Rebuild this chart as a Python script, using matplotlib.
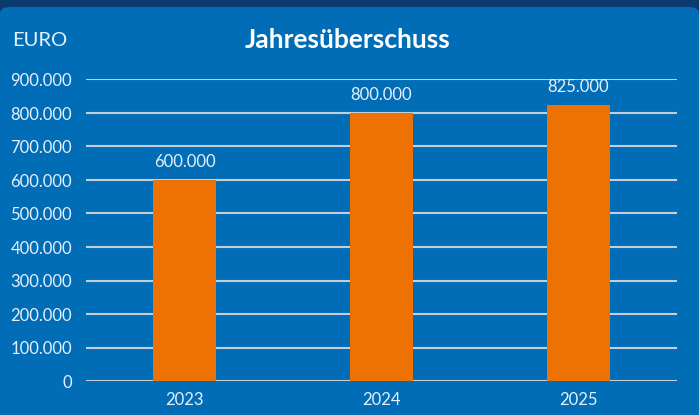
import matplotlib.pyplot as plt
from matplotlib.patches import FancyBboxPatch
from matplotlib.ticker import FuncFormatter

# Daten
years = ['2023', '2024', '2025']
values = [600000, 800000, 825000]
value_labels = ['600.000', '800.000', '825.000']

plt.rcParams['font.family'] = ['Lato', 'DejaVu Sans']

fig = plt.figure(figsize=(6.99, 4.15), dpi=100)
fig.patch.set_facecolor('#0b3a6e')

# Karte im Hintergrund
card = FancyBboxPatch((0.0, -0.05), 1.0, 1 - 7 / 415 + 0.05, boxstyle='round,pad=0,rounding_size=0.015',
                      transform=fig.transFigure, facecolor='#006db6', edgecolor='none', zorder=-1)
fig.patches.append(card)

ax = fig.add_axes([86 / 699, 1 - 381 / 415, (677 - 86) / 699, (381 - 79.5) / 415])
ax.set_facecolor('none')

x = range(len(years))
ax.bar(x, values, width=0.315, color='#ee7203', zorder=3)

for i, v in enumerate(values):
    ax.annotate(value_labels[i], (i, v), xytext=(0, 7), textcoords='offset points',
                ha='center', va='bottom', color='#e6f0fa', fontsize=12)

ax.set_xlim(-0.5, 2.5)
ax.set_ylim(0, 900000)
ax.set_yticks(range(0, 900001, 100000))
ax.yaxis.set_major_formatter(FuncFormatter(lambda v, p: f'{int(v):,}'.replace(',', '.')))
ax.set_xticks(list(x))
ax.set_xticklabels(years)

ax.grid(axis='y', color='#c5cfd9', linewidth=1.5, zorder=1)
ax.tick_params(axis='both', length=0, colors='#e6f0fa', labelsize=12)
ax.tick_params(axis='y', pad=10)
ax.tick_params(axis='x', pad=8)
for s in ax.spines.values():
    s.set_visible(False)

fig.text(348 / 699, 1 - 40 / 415, 'Jahresüberschuss', ha='center', va='center',
         color='white', fontsize=19, fontweight='bold')
fig.text(12 / 699, 1 - 41 / 415, 'EURO', ha='left', va='center', color='#e6f0fa', fontsize=14.5)

fig.savefig('out.png', dpi=100, facecolor=fig.get_facecolor())
